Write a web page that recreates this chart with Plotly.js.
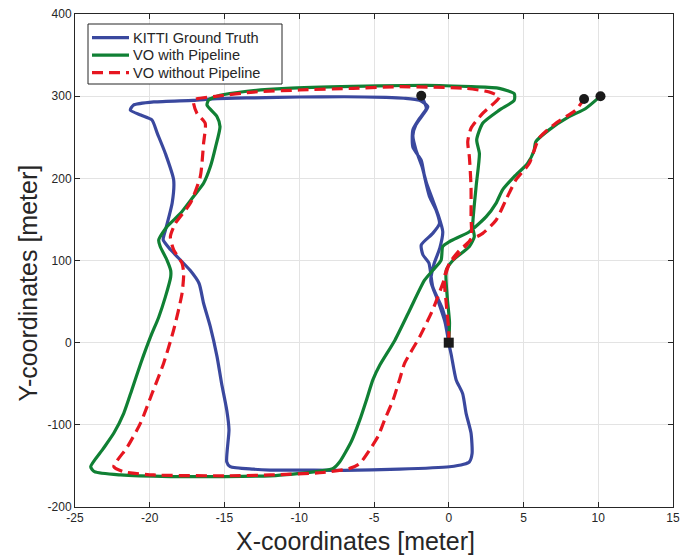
<!DOCTYPE html>
<html>
<head>
<meta charset="utf-8">
<script src="https://cdn.plot.ly/plotly-3.0.1.min.js"></script>
<style>html,body{margin:0;padding:0;background:#fff;}#chart{width:682px;height:559px;}</style>
</head>
<body>
<div id="chart"></div>
<script>
// KITTI ground truth trajectory
const gtX = [0, -0.25, -0.7, -1.2, -1.0, -0.6, -0.4, -0.7, -1.1, -1.5, -1.8, -2.2, -2.4, -2.2, -1.7, -1.4, -1.95,
  -3.0, -4.2, -7, -10, -13, -15.5, -17.1, -19.7, -21.1, -21.3, -20.6, -19.85, -19.5, -18.95, -18.4, -18.5, -18.95, -19.1, -18.6,
  -17.3, -16.7, -16.4, -15.95, -15.5, -15.2, -14.85, -14.7, -14.85, -14.62, -13.07, -11.95, -10, -7, -3.3, 0.05, 1.0, 1.38, 1.56,
  1.49, 1.16, 0.93, 0.49, 0.17, 0,
  -0.07, -0.4, -1.07, -1.33, -1.73, -1.84, -1.07, -0.62, -0.84, -1.29, -1.62, -1.84, -2.4, -2.4, -1.95, -1.5, -1.84];
const gtY = [0, 25, 50, 75, 95, 115, 135, 155, 175, 195, 215, 235, 252, 265, 278, 287, 295,
  297.5, 298.5, 299.3, 299, 298, 297, 295, 293, 289, 283, 277, 271, 255, 230, 198, 170, 137, 125, 113,
  88, 72, 48, 19.5, -17, -49, -82, -106, -145, -151, -154, -155, -155, -155.5, -154, -151, -148, -145, -135,
  -110, -86, -62, -45, -15, 0,
  15.5, 40, 68, 97, 107, 119, 133, 145, 161, 178, 202, 222, 238, 259, 273, 285, 300.5];

// VO with pipeline
const voPX = [0, 0.05, -0.1, -0.17, 0.27, 1.38, 1.71, 1.6, 1.83, 2.05, 1.87, 2.27, 3.38, 4.38, 4.38, 3.38, 1.5, -0.62, -3, -6.4,
  -10.84, -13.5, -15.3, -16.07, -16.17, -15.5, -15.3, -15.6, -15.95, -16.4, -17.07, -17.96, -18.85, -19.4, -19.3, -18.85, -18.6,
  -18.6, -18.95, -19.4, -19.95, -20.6, -21.2, -21.74, -22.4, -23.17, -23.95, -23.7, -21.95, -18.6, -15, -11.95, -9.95, -8.5,
  -7.73, -7.29, -6.51, -5.95, -5.51, -5.07, -4.6, -3.6, -2.6, -1.62, -1.07, -0.51, -0.4, 0.05, 1.38, 2.49, 3.16, 3.6, 4.38,
  5.27, 5.71, 5.82, 6.71, 8.05, 9.16, 10.15];
const voPY = [0, 25, 55, 88, 100, 117, 129, 141, 190, 230, 247, 267, 283, 295, 303, 309.5, 311.5, 313, 313, 312,
  309.5, 306, 301, 295, 289, 275, 263, 238, 214, 194, 178, 157, 141, 125, 117, 100.6, 88,
  80, 56, 31, 7, -25, -57.5, -86, -110, -130.5, -151, -157, -161, -163, -163, -162, -159, -156,
  -153, -145, -120, -94, -70, -45, -27, 3, 40, 76, 88, 100.6, 117, 123, 135, 153, 169.6, 186, 202,
  218, 234, 244.5, 259, 275, 285, 300];

// VO without pipeline
const voNX = [0, 0, -0.17, -0.29, 0.05, 0.71, 1.49, 1.49, 1.49, 1.38, 1.27, 1.49, 2.27, 3.38, 2.71, 1.16, -3.29, -6.4, -10,
  -13.07, -15.5, -17.07, -16.84, -16.29, -16.4, -16.62, -17.29, -18.29, -18.62, -18.4, -17.84, -17.73, -17.84, -18.4, -19.07,
  -19.84, -20.62, -21.5, -22.4, -21.74, -19.73, -15, -11.95, -8.4, -6.62, -5.95, -5.29, -4.73, -4.29, -3.73, -3.29, -2.95,
  -1.95, -1.07, -0.4, 0.05, 0.6, 1.49, 2.27, 3.16, 3.83, 4.49, 5.38, 6.05, 7.16, 8.49, 9.05];
const voNY = [0, 15.5, 48, 80, 96.6, 108.8, 127, 153, 190, 226, 244.5, 261, 279, 299, 305, 309.5, 311.5, 309.5, 307.5,
  305, 300, 295, 279, 267, 242.6, 202, 169.6, 145, 129, 113, 96.6, 84, 60, 15.5, -25,
  -61.6, -98, -127, -151, -157, -161, -162, -161, -158, -153, -147, -130.5, -114, -94, -70, -45, -25,
  7, 40, 72, 96.6, 110, 125, 133, 149, 174, 198, 218, 249, 267, 283, 296.5];

// start / end markers
const startX = [0], startY = [0];
const endX = [-1.84, 10.15, 9.05], endY = [300.5, 300, 296.5];

const legendNames = ['KITTI Ground Truth', 'VO with Pipeline', 'VO without Pipeline'];
const xTicks = [-25, -20, -15, -10, -5, 0, 5, 10, 15];
const yTicks = [-200, -100, 0, 100, 200, 300, 400];
const xTitle = 'X-coordinates [meter]';
const yTitle = 'Y-coordinates [meter]';

const cBlue = 'rgb(58,72,158)', cGreen = 'rgb(16,128,52)', cRed = 'rgb(230,22,32)';
const colors = [cBlue, cGreen, cRed];
const dashes = ['solid', 'solid', '11px,6px'];
const FONT = 'Liberation Sans, Arial, sans-serif';

const traces = [
  {x: gtX, y: gtY, mode: 'lines', name: legendNames[0], showlegend: false, line: {color: cBlue, width: 3.2, shape: 'spline', smoothing: 0.6}},
  {x: voPX, y: voPY, mode: 'lines', name: legendNames[1], showlegend: false, line: {color: cGreen, width: 3.2, shape: 'spline', smoothing: 0.6}},
  {x: voNX, y: voNY, mode: 'lines', name: legendNames[2], showlegend: false, line: {color: cRed, width: 3.2, dash: dashes[2], shape: 'spline', smoothing: 0.6}},
  {x: endX, y: endY, mode: 'markers', showlegend: false, hoverinfo: 'skip', marker: {color: '#1a1a1a', size: 10, symbol: 'circle'}},
  {x: startX, y: startY, mode: 'markers', showlegend: false, hoverinfo: 'skip', marker: {color: '#1a1a1a', size: 10, symbol: 'square'}}
];

// legend drawn in paper coordinates (box, samples, labels)
const L = 75, W = 598, T = 14, H = 493;
const px = v => (v - L) / W;
const py = v => (T + H - v) / H;
const rowY = [37.7, 55.2, 72.7];

const shapes = [
  {type: 'rect', xref: 'paper', yref: 'paper', x0: px(88), x1: px(282), y0: py(84), y1: py(24),
   line: {color: '#262626', width: 1}, fillcolor: '#ffffff', layer: 'above'}
];
const annotations = [];
legendNames.forEach((name, i) => {
  shapes.push({type: 'line', xref: 'paper', yref: 'paper', x0: px(92), x1: px(129), y0: py(rowY[i]), y1: py(rowY[i]),
    line: {color: colors[i], width: 3.2, dash: dashes[i]}, layer: 'above'});
  annotations.push({xref: 'paper', yref: 'paper', x: px(130.5), y: py(rowY[i]), xanchor: 'left', yanchor: 'middle',
    text: name, showarrow: false, font: {family: FONT, size: 14.6, color: '#262626'}});
});
annotations.push({xref: 'paper', yref: 'paper', x: px(355), y: py(541), xanchor: 'center', yanchor: 'middle',
  text: xTitle, showarrow: false, font: {family: FONT, size: 25, color: '#262626'}});
annotations.push({xref: 'paper', yref: 'paper', x: px(27), y: py(283.5), xanchor: 'center', yanchor: 'middle',
  text: yTitle, textangle: -90, showarrow: false, font: {family: FONT, size: 25, color: '#262626'}});

const axisCommon = {
  showline: true, linecolor: '#262626', linewidth: 1, mirror: 'ticks',
  ticks: 'inside', ticklen: 5, tickcolor: '#262626', tickwidth: 1,
  showgrid: true, gridcolor: '#e3e3e3', gridwidth: 1, zeroline: false,
  tickfont: {family: FONT, size: 12, color: '#262626'}
};

const layout = {
  width: 682, height: 559,
  margin: {l: L, r: 682 - L - W, t: T, b: 559 - T - H},
  paper_bgcolor: '#fff', plot_bgcolor: '#fff',
  showlegend: false,
  shapes: shapes,
  annotations: annotations,
  xaxis: Object.assign({}, axisCommon, {range: [-25, 15], tickvals: xTicks, ticktext: xTicks.map(String)}),
  yaxis: Object.assign({}, axisCommon, {range: [-200, 400], tickvals: yTicks, ticktext: yTicks.map(String)})
};

Plotly.newPlot('chart', traces, layout, {staticPlot: true, displayModeBar: false});
</script>
</body>
</html>
